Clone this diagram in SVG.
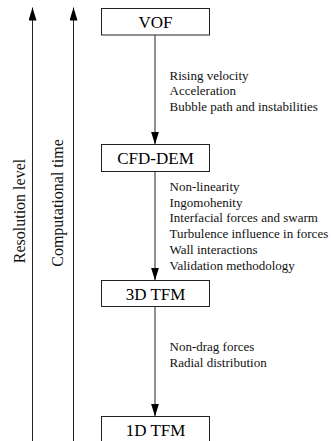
<svg xmlns="http://www.w3.org/2000/svg" width="333" height="441" viewBox="0 0 333 441">
<defs>
<marker id="ah" markerWidth="13" markerHeight="8" refX="13" refY="4" orient="auto" markerUnits="userSpaceOnUse" viewBox="0 0 13 8">
<path d="M0,0 L13,4 L0,8 Z" fill="#000"/>
</marker>
</defs>
<style>
text{font-family:'Liberation Serif','Times New Roman','DejaVu Serif',serif}
.box{fill:#fff;stroke:#222;stroke-width:1}
.lbl{font-size:17px;fill:#000;text-anchor:middle}
.note{font-size:13px;fill:#111}
.side{font-size:16px;fill:#111;text-anchor:middle}
.ln{stroke:#222;stroke-width:1;fill:none;marker-end:url(#ah)}
</style>
<rect width="333" height="441" fill="#fff"/>
<g id="connectors">
<line class="ln" x1="32.5" y1="441" x2="32.5" y2="7.5"/>
<line class="ln" x1="73.5" y1="441" x2="73.5" y2="7.5"/>
<line class="ln" x1="155" y1="35" x2="155" y2="144.5"/>
<line class="ln" x1="155" y1="171.5" x2="155" y2="280.5"/>
<line class="ln" x1="155" y1="306.5" x2="155" y2="416.5"/>
</g>
<g id="axis-resolution">
<text class="side" font-family="Liberation Serif, serif" transform="rotate(-90 25 211)" x="25" y="211">Resolution level</text>
</g>
<g id="axis-time">
<text class="side" font-family="Liberation Serif, serif" transform="rotate(-90 63 203)" x="63" y="203">Computational time</text>
</g>
<g id="node-vof">
<rect class="box" x="101.5" y="8.5" width="108" height="26.5"/>
<text class="lbl" font-family="Liberation Serif, serif" x="155.5" y="27.5">VOF</text>
</g>
<g id="node-cfddem">
<rect class="box" x="101.5" y="144.5" width="108" height="27"/>
<text class="lbl" font-family="Liberation Serif, serif" x="155.5" y="164">CFD-DEM</text>
</g>
<g id="node-3dtfm">
<rect class="box" x="101.5" y="280.5" width="108" height="26"/>
<text class="lbl" font-family="Liberation Serif, serif" x="155.5" y="299.5">3D TFM</text>
</g>
<g id="node-1dtfm">
<rect class="box" x="101.5" y="416.5" width="108" height="27"/>
<text class="lbl" font-family="Liberation Serif, serif" x="155.5" y="436">1D TFM</text>
</g>
<g id="notes-1" font-family="Liberation Serif, serif">
<text class="note" x="169.5" y="79.5">Rising velocity</text>
<text class="note" x="169.5" y="95">Acceleration</text>
<text class="note" x="169.5" y="110.5">Bubble path and instabilities</text>
</g>
<g id="notes-2" font-family="Liberation Serif, serif">
<text class="note" x="169.5" y="191">Non-linearity</text>
<text class="note" x="169.5" y="206.5">Ingomohenity</text>
<text class="note" x="169.5" y="222">Interfacial forces and swarm</text>
<text class="note" x="169.5" y="237.7">Turbulence influence in forces</text>
<text class="note" x="169.5" y="253.5">Wall interactions</text>
<text class="note" x="169.5" y="269.5">Validation methodology</text>
</g>
<g id="notes-3" font-family="Liberation Serif, serif">
<text class="note" x="169.5" y="351">Non-drag forces</text>
<text class="note" x="169.5" y="367">Radial distribution</text>
</g>
</svg>
